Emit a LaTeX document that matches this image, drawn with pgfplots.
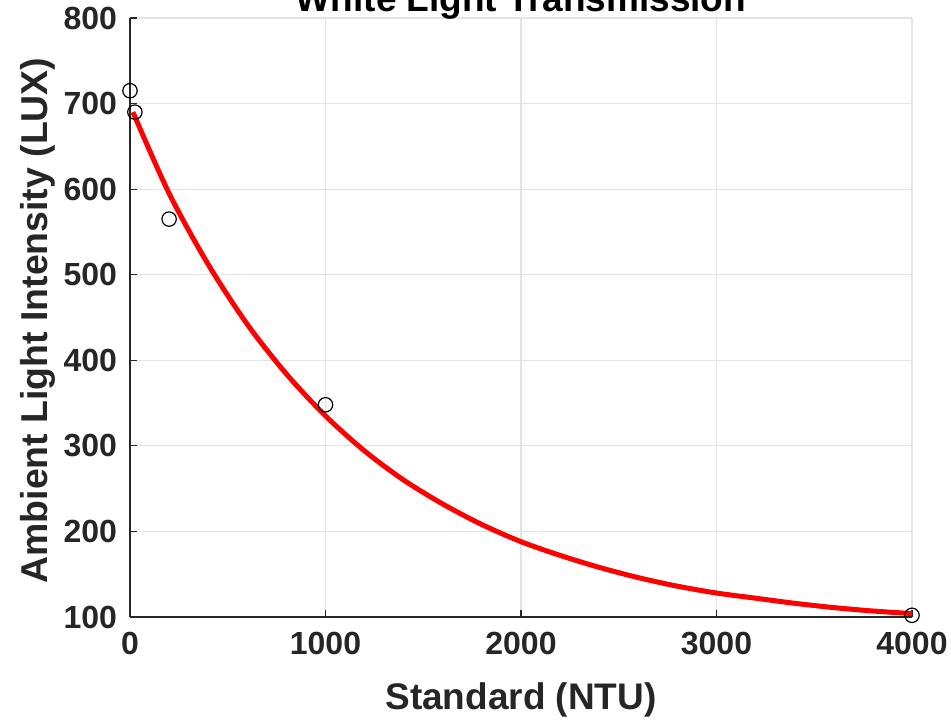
\documentclass[border=0pt]{standalone}
\usepackage{pgfplots}
\pgfplotsset{compat=1.18}
\usepackage{fontspec}
\setmainfont{Liberation Sans}
\definecolor{txt}{HTML}{262626}
\definecolor{gridc}{HTML}{E3E3E3}
\begin{document}
\begin{tikzpicture}
\begin{axis}[
    at={(0,0)}, anchor=south west,
    scale only axis,
    width=391pt,
    height=299.5pt,
    xmin=0, xmax=4000,
    ymin=100, ymax=800,
    xtick={0,1000,...,4000},
    ytick={100,200,...,800},
    axis x line*=bottom,
    axis y line*=left,
    axis line style={txt, line width=0.6pt, -},
    tick align=inside,
    major tick length=3.5pt,
    tick style={txt, line width=0.6pt},
    grid=major,
    major grid style={gridc, line width=0.6pt},
    font=\fontsize{16}{19}\selectfont\bfseries,
    ticklabel style={text=txt},
    /pgf/number format/assume math mode=true,
    /pgf/number format/set thousands separator={},
    xticklabel style={yshift=-4pt},
    yticklabel style={xshift=-3pt},
    xlabel={Standard (NTU)},
    ylabel={Ambient Light Intensity (LUX)},
    xlabel style={at={(axis description cs:0.5,-0.1386)}, anchor=center, text=txt,
        font=\fontsize{18.5}{22}\selectfont\bfseries},
    ylabel style={at={(axis description cs:-0.118,0.495)}, anchor=center, text=txt,
        font=\fontsize{18.7}{22}\selectfont\bfseries},
    clip=false,
]
\addplot[red, line width=2.5pt, smooth] coordinates {
    (15, 690) (200, 595) (400, 512) (600, 442) (800, 384) (1000, 335)
    (1200, 294) (1400, 260) (1600, 232) (1800, 208) (2000, 188)
    (2200, 172) (2400, 158) (2600, 146) (2800, 136) (3000, 128)
    (3200, 122) (3400, 116) (3600, 111) (3800, 107) (4000, 104)
};
\addplot[only marks, mark=o, mark size=3.6pt, mark options={black, line width=0.6pt}] coordinates {
    (0, 715) (25, 690) (200, 565) (1000, 348) (4000, 102)
};
\node[anchor=base, font=\fontsize{18.5}{22}\selectfont\bfseries, text=black]
    at (rel axis cs:0.5,1) [yshift=3pt] {White Light Transmission};
\end{axis}
\pgfresetboundingbox
\useasboundingbox (-65pt,-52pt) rectangle (410.5pt,308.5pt);
\end{tikzpicture}
\end{document}
